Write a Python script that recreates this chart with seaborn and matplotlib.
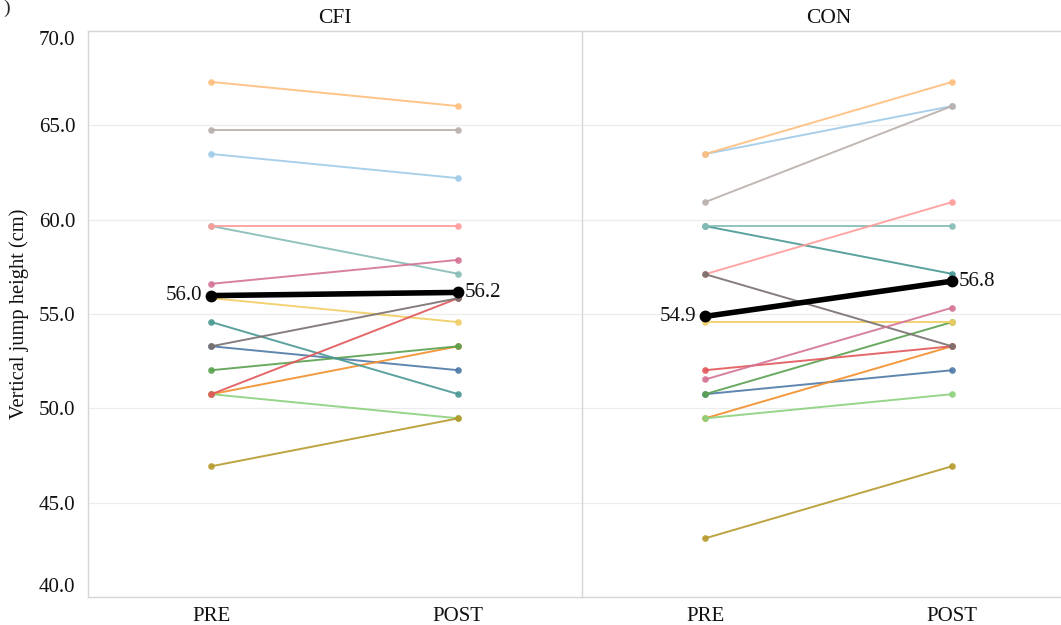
import numpy as np
import pandas as pd
import matplotlib
matplotlib.use("Agg")
import matplotlib.pyplot as plt
import seaborn as sns

# ---- data ----
times = ["PRE", "POST"]
groups = ["CFI", "CON"]

cfi_pre = [53.29, 63.48, 50.75, 67.30, 52.02, 50.75, 46.93, 55.84, 54.57, 59.66, 50.75, 59.66, 53.29, 64.75, 56.60]
cfi_post = [52.02, 62.20, 53.29, 66.02, 53.29, 49.47, 49.47, 54.57, 50.75, 57.13, 55.84, 59.66, 55.84, 64.75, 57.87]
con_pre = [50.75, 63.48, 49.47, 63.48, 50.75, 49.47, 43.11, 54.57, 59.66, 59.66, 52.02, 57.11, 57.11, 60.93, 51.53]
con_post = [52.02, 66.02, 53.29, 67.30, 54.57, 50.75, 46.93, 54.57, 57.13, 59.66, 53.29, 60.93, 53.29, 66.02, 55.33]

mean_labels = {"CFI": ["56.0", "56.2"], "CON": ["54.9", "56.8"]}

# tableau 20 order, one colour per subject
subj_colors = ["#4E79A7", "#A0CBE8", "#F28E2B", "#FFBE7D", "#59A14F", "#8CD17D", "#B6992D",
               "#F1CE63", "#499894", "#86BCB6", "#E15759", "#FF9D9A", "#79706E", "#BAB0AC",
               "#D37295"]

rows = []
for g, pre, post in [("CFI", cfi_pre, cfi_post), ("CON", con_pre, con_post)]:
    for t, vals in zip(times, [pre, post]):
        for i, v in enumerate(vals):
            rows.append({"group": g, "time": t, "subject": i, "height": v})
df = pd.DataFrame(rows)

sns.set_theme(style="white")
plt.rcParams["font.family"] = ["Liberation Serif", "DejaVu Serif"]

W, H = 1061, 625
fig = plt.figure(figsize=(W / 100, H / 100), dpi=100)

left = 88 / W
panel_w = (581.7 - 88) / W
bottom = 1 - 597 / H
height = (597 - 31) / H

axes = [fig.add_axes([left, bottom, panel_w, height]),
        fig.add_axes([left + panel_w, bottom, panel_w, height])]

pal = dict(enumerate(subj_colors))
edge = "#d6d6d6"
fs = 15

for k, (ax, g) in enumerate(zip(axes, groups)):
    d = df[df.group == g]
    sns.lineplot(data=d, x="time", y="height", hue="subject", palette=pal,
                 marker="o", markersize=4.8, markeredgewidth=0, linewidth=1.4,
                 alpha=0.9, legend=False, sort=False, ax=ax)
    sns.lineplot(data=d, x="time", y="height", estimator="mean", errorbar=None,
                 color="black", marker="o", markersize=8.5, markeredgewidth=0,
                 linewidth=4, sort=False, ax=ax, zorder=5)

    means = d.groupby("time", sort=False)["height"].mean()
    ax.annotate(mean_labels[g][0], (0, means["PRE"]), xytext=(-6.5, 0),
                textcoords="offset points", ha="right", va="center", fontsize=fs, color="#111111")
    ax.annotate(mean_labels[g][1], (1, means["POST"]), xytext=(4.5, 0),
                textcoords="offset points", ha="left", va="center", fontsize=fs, color="#111111")

    ax.set_xlim(-0.5, 1.5)
    ax.set_ylim(40, 70)
    ax.set_yticks(np.arange(40, 71, 5))
    ax.set_xticks([0, 1])
    ax.set_xticklabels(times, fontsize=fs, color="#111111")
    ax.set_xlabel("")
    ax.set_ylabel("")
    ax.set_title(g, fontsize=15.5, pad=6, color="#111111")
    for y in [45, 50, 55, 60, 65]:
        ax.axhline(y, color="#ededed", lw=0.9, zorder=0)
    for s in ["top", "bottom", "left"]:
        ax.spines[s].set_color(edge)
        ax.spines[s].set_linewidth(1.0)
    ax.spines["right"].set_visible(False)
    ax.tick_params(length=0, pad=9)
    ax.tick_params(axis="x", pad=7)

    if k == 0:
        ax.set_yticklabels([f"{v:.1f}" for v in np.arange(40, 71, 5)], fontsize=fs, color="#111111")
        ticks = ax.yaxis.get_major_ticks()
        ticks[0].label1.set_verticalalignment("bottom")
        ticks[-1].label1.set_verticalalignment("top")
        ax.set_ylabel("Vertical jump height (cm)", fontsize=14.8, labelpad=7, color="#111111")
    else:
        ax.set_yticklabels([])

fig.text(0.003, 1.0, ")", ha="left", va="top", fontsize=14)

fig.savefig("out.png", dpi=100)
